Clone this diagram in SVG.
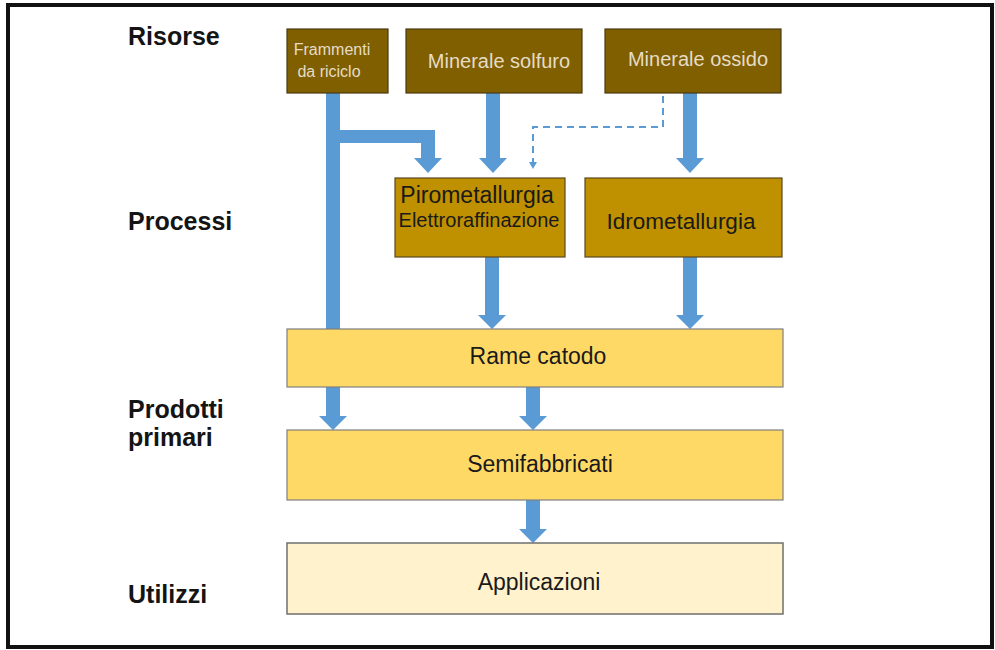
<svg xmlns="http://www.w3.org/2000/svg" width="995" height="650" viewBox="0 0 995 650">
<style>
.lbl{font-family:"Liberation Sans",Arial,sans-serif;font-weight:bold;font-size:25px;fill:#141414}
.res{fill:#7F5F00;stroke:#4a3a10;stroke-width:1.2}
.res-t{font-family:"Liberation Sans",Arial,sans-serif;fill:#E6DCC6;text-anchor:middle}
.proc{fill:#BF9000;stroke:#5a4a20;stroke-width:1.2}
.prod{fill:#FFD966;stroke:#7f7f7f;stroke-width:1.2}
.use{fill:#FFF2CC;stroke:#6f6f6f;stroke-width:1.5}
.t{font-family:"Liberation Sans",Arial,sans-serif;fill:#1a1a1a;text-anchor:middle}
.arr{fill:#5B9BD5}
.dash{fill:none;stroke:#5B9BD5;stroke-width:2;stroke-dasharray:7,5}
</style>
<rect x="0" y="0" width="995" height="650" fill="#ffffff"/>
<rect x="8" y="5" width="984" height="642" fill="#ffffff" stroke="#111" stroke-width="4"/>

<g id="labels">
<text class="lbl" x="128" y="45">Risorse</text>
<text class="lbl" x="128" y="230">Processi</text>
<text class="lbl" x="128" y="418">Prodotti</text>
<text class="lbl" x="128" y="446">primari</text>
<text class="lbl" x="128" y="603">Utilizzi</text>
</g>

<g id="connectors">
<polygon class="arr" points="326,93 340,93 340,130 435,130 435,158 442,158 428,173 414,158 421,158 421,143 340,143 340,329 326,329"/>
<polygon class="arr" points="486,93 500,93 500,158 507,158 493,173 479,158 486,158"/>
<polygon class="arr" points="683,93 697,93 697,158 704,158 690,173 676,158 683,158"/>
<polyline class="dash" points="663,96 663,127 533,127 533,163"/>
<polygon class="arr" points="529,162 537,162 533,169"/>
<polygon class="arr" points="485,257 499,257 499,315 506,315 492,329 478,315 485,315"/>
<polygon class="arr" points="683,257 697,257 697,315 704,315 690,329 676,315 683,315"/>
<polygon class="arr" points="326,387 340,387 340,416 347,416 333,430 319,416 326,416"/>
<polygon class="arr" points="526,387 540,387 540,416 547,416 533,430 519,416 526,416"/>
<polygon class="arr" points="526,500 540,500 540,529 547,529 533,543 519,529 526,529"/>
</g>

<g id="frammenti">
<rect class="res" x="287" y="29" width="101" height="64"/>
<text class="res-t" x="332" y="55" font-size="16">Frammenti</text>
<text class="res-t" x="329" y="77" font-size="16">da riciclo</text>
</g>
<g id="solfuro">
<rect class="res" x="406" y="29" width="176" height="64"/>
<text class="res-t" x="499" y="68" font-size="20">Minerale solfuro</text>
</g>
<g id="ossido">
<rect class="res" x="605" y="29" width="176" height="64"/>
<text class="res-t" x="698" y="66" font-size="20">Minerale ossido</text>
</g>
<g id="pirometallurgia">
<rect class="proc" x="395" y="178" width="170" height="79"/>
<text class="t" x="477" y="203" font-size="23">Pirometallurgia</text>
<text class="t" x="479" y="227" font-size="20">Elettroraffinazione</text>
</g>
<g id="idrometallurgia">
<rect class="proc" x="585" y="178" width="197" height="79"/>
<text class="t" x="681" y="229" font-size="22.5">Idrometallurgia</text>
</g>
<g id="rame">
<rect class="prod" x="287" y="329" width="496" height="58"/>
<text class="t" x="538" y="364" font-size="23">Rame catodo</text>
</g>
<g id="semifabbricati">
<rect class="prod" x="287" y="430" width="496" height="70"/>
<text class="t" x="540" y="472" font-size="23">Semifabbricati</text>
</g>
<g id="applicazioni">
<rect class="use" x="287" y="543" width="496" height="71"/>
<text class="t" x="539" y="590" font-size="23">Applicazioni</text>
</g>
</svg>
